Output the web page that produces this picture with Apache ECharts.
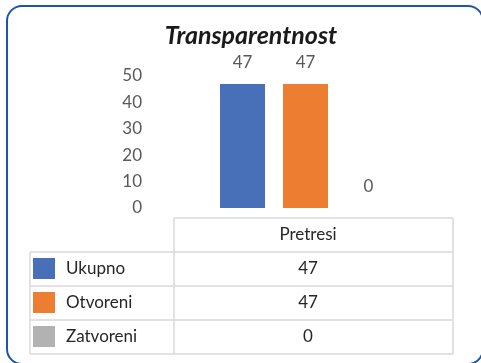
<!DOCTYPE html>
<html>
<head>
<meta charset="utf-8">
<style>
  html, body { margin: 0; padding: 0; background: #ffffff; }
  #chart { width: 481px; height: 363px; }
</style>
<script src="https://cdn.jsdelivr.net/npm/echarts@6/dist/echarts.min.js"></script>
</head>
<body>
<div id="chart"></div>
<script>
// Chart data
const titleText = 'Transparentnost';
const category = ['Pretresi'];
const seriesNames = ['Ukupno', 'Otvoreni', 'Zatvoreni'];
const seriesValues = [47, 47, 0];
const seriesColors = ['#4870B8', '#ED7D31', '#B2B2B2'];
const yTicks = [0, 10, 20, 30, 40, 50];

const FONT = 'Lato, "Open Sans", sans-serif';
const chart = echarts.init(document.getElementById('chart'));

// Data table geometry (below the plot)
const tbl = {
  left: 30, colX: 174, right: 453,
  headTop: 218, rowTop: 252, rowH: 34
};
const lineStyle = { stroke: '#D9D9D9', lineWidth: 1.5 };
const graphics = [];

// outer rounded frame
graphics.push({
  type: 'rect', silent: true,
  shape: { x: 7, y: 6, width: 476, height: 358, r: 15 },
  style: { fill: 'none', stroke: '#1F55A5', lineWidth: 2 }
});

// table grid lines
graphics.push({ type: 'line', shape: { x1: tbl.colX, y1: tbl.headTop, x2: tbl.right, y2: tbl.headTop }, style: lineStyle });
for (let i = 0; i <= seriesNames.length; i++) {
  const y = tbl.rowTop + i * tbl.rowH;
  graphics.push({ type: 'line', shape: { x1: tbl.left, y1: y, x2: tbl.right, y2: y }, style: lineStyle });
}
const tblBottom = tbl.rowTop + seriesNames.length * tbl.rowH;
graphics.push({ type: 'line', shape: { x1: tbl.left, y1: tbl.rowTop, x2: tbl.left, y2: tblBottom }, style: lineStyle });
graphics.push({ type: 'line', shape: { x1: tbl.colX, y1: tbl.headTop, x2: tbl.colX, y2: tblBottom }, style: lineStyle });
graphics.push({ type: 'line', shape: { x1: tbl.right, y1: tbl.headTop, x2: tbl.right, y2: tblBottom }, style: lineStyle });

// header and value cells
const cellX = 308;
graphics.push({
  type: 'text', x: cellX, y: (tbl.headTop + tbl.rowTop) / 2,
  style: { text: category[0], font: '17px ' + FONT, fill: '#262626', align: 'center', verticalAlign: 'middle' }
});
seriesValues.forEach((v, i) => {
  graphics.push({
    type: 'text', x: cellX, y: tbl.rowTop + i * tbl.rowH + tbl.rowH / 2,
    style: { text: String(v), font: '17px ' + FONT, fill: '#262626', align: 'center', verticalAlign: 'middle' }
  });
});

chart.setOption({
  animation: false,
  backgroundColor: '#ffffff',
  title: {
    text: titleText,
    left: 246, top: 18,
    textAlign: 'center',
    textStyle: { fontFamily: FONT, fontSize: 25, fontWeight: 'bold', fontStyle: 'italic', color: '#1a1a1a' }
  },
  legend: {
    orient: 'vertical',
    left: 33, top: 258,
    padding: 0,
    itemWidth: 22, itemHeight: 21,
    itemGap: 13,
    icon: 'rect',
    selectedMode: false,
    data: seriesNames,
    textStyle: { fontFamily: FONT, fontSize: 17, color: '#262626', padding: [0, 0, 0, 6] }
  },
  grid: { left: 175, width: 261, top: 76, height: 132 },
  xAxis: {
    type: 'category',
    data: category,
    axisLine: { show: false },
    axisTick: { show: false },
    axisLabel: { show: false }
  },
  yAxis: {
    type: 'value',
    min: yTicks[0], max: yTicks[yTicks.length - 1], interval: 10,
    axisLine: { show: false },
    axisTick: { show: false },
    splitLine: { show: false },
    axisLabel: { margin: 33, fontFamily: FONT, fontSize: 17, color: '#595959' }
  },
  series: seriesNames.map((name, i) => ({
    name: name,
    type: 'bar',
    data: [seriesValues[i]],
    barWidth: 45,
    barGap: '40%',
    itemStyle: { color: seriesColors[i] },
    label: {
      show: true, position: 'top', distance: 13,
      fontFamily: FONT, fontSize: 17, color: '#595959'
    }
  })),
  graphic: graphics
});
</script>
</body>
</html>
